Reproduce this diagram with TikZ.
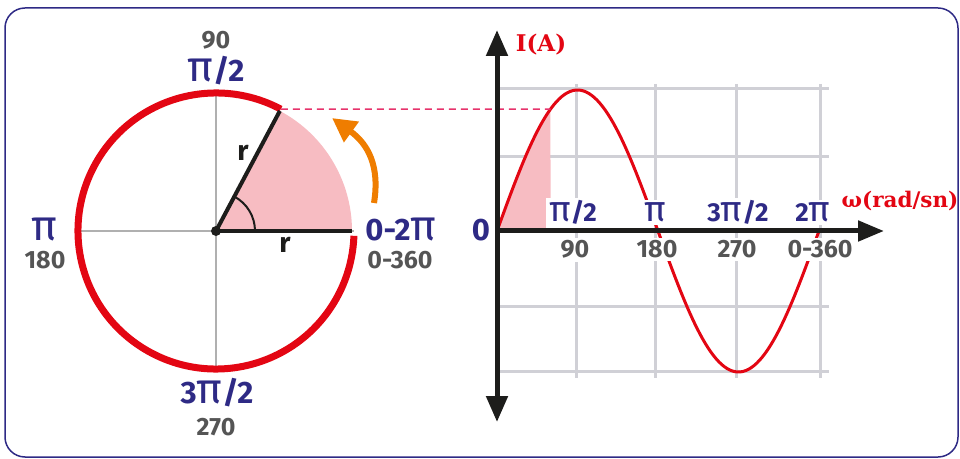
\documentclass[tikz,border=0pt]{standalone}
\usepackage{fontspec}
\setmainfont{Fira Sans}
\newfontfamily\pifont{Fira Sans}
\newfontfamily\slab{DejaVu Serif}
\usetikzlibrary{arrows.meta,calc}
\newcommand{\PIsym}{\scalebox{1.4}[1.38]{\pifont\mdseries π}}
\definecolor{cnavy}{HTML}{2E2A85}
\definecolor{cgray}{HTML}{555555}
\definecolor{cred}{HTML}{E30613}
\definecolor{cpink}{HTML}{F7BCC2}
\definecolor{cdash}{HTML}{E6336B}
\definecolor{corange}{HTML}{EF7D00}
\definecolor{cblack}{HTML}{1D1D1B}
\definecolor{caxis}{HTML}{B0B0B0}
\definecolor{cgrid}{HTML}{D0D0D6}
\definecolor{cframe}{HTML}{2E2A85}
\begin{document}
\begin{tikzpicture}[x=1pt,y=1pt,
  bignavy/.style={text=cnavy,font=\bfseries\fontsize{31}{31}\selectfont,anchor=base,inner sep=0pt},
  smallnavy/.style={text=cnavy,font=\bfseries\fontsize{26}{26}\selectfont,anchor=base,inner sep=3pt,fill=white},
  grayc/.style={text=cgray,font=\bfseries\fontsize{25}{25}\selectfont,anchor=base,inner sep=0pt},
  grayg/.style={text=cgray,font=\bfseries\fontsize{25}{25}\selectfont,anchor=base,inner sep=3pt,fill=white},
  rlabel/.style={text=cblack,font=\fontsize{28}{28}\selectfont\bfseries,anchor=base,inner sep=0pt},
  redlabel/.style={text=cred,font=\slab\bfseries,anchor=base,inner sep=0pt},
  gridline/.style={draw=cgrid,line width=3pt},
  axisline/.style={draw=cblack,line width=5pt}]
\useasboundingbox (0,0) rectangle (960,458);
% frame
\draw[cframe,line width=1.5pt,rounded corners=20pt] (5,1) rectangle (958,450);

% ---------- circle ----------
\coordinate (C) at (216,227);
\draw[caxis,line width=1.5pt] (78,227) -- (354,227);
\draw[caxis,line width=1.5pt] (216,89) -- (216,365);
\fill[cpink] (C) -- ++(0:136) arc[start angle=0,end angle=62,radius=136] -- cycle;
\draw[cred,line width=7pt] (C) ++(62:138) arc[start angle=62,end angle=358,radius=138];
\coordinate (P) at ($(C)+(62:138)$);
\coordinate (E) at ($(C)+(0:136)$);
\coordinate (P2) at ($(C)+(62:136)$);
\draw[cblack,line width=4pt] (C) -- (E);
\draw[cblack,line width=4pt] (C) -- (P2);
\draw[cblack,line width=2pt] (C) ++(0:39) arc[start angle=0,end angle=62,radius=39];
\fill[cblack] (C) circle[radius=5];
\node[rlabel] (r1) at (243,297) {r};
\node[rlabel] (r2) at (285,205) {r};
% orange arrow
\coordinate (oa) at (374,255);
\coordinate (ob) at (332,340);
\draw[corange,line width=6pt,-{Triangle[length=24pt,width=24pt]}] (oa) .. controls (380,292) and (368,314) .. (ob);
% circle labels
\node[grayc] (t90) at (216,409) {90};
\node[bignavy] (tpi2) at (216,376) {\PIsym/2};
\node[bignavy] (tpi) at (44,217) {\PIsym};
\node[grayc] (t180) at (45,189) {180};
\node[bignavy] (t02pi) at (401,217) {0-2\PIsym};
\node[grayc] (t0360) at (400,189) {0-360};
\node[bignavy] (t3pi2) at (217,55) {3\PIsym/2};
\node[grayc] (t270) at (216,23) {270};

% ---------- graph ----------
\foreach \yy in {369,301,152,87} \draw[gridline] (497,\yy) -- (829,\yy);
\foreach \xx in {576,655,736,820} \draw[gridline] (\xx,374) -- (\xx,80);
\coordinate (Q) at (550.5,348.9);
\fill[cpink] (497,227) -- plot[domain=0:59.8,samples=40] ({497+0.8944*\x},{227+141*sin(\x)}) -- (550.5,227) -- cycle;
\draw[cred,line width=3pt] plot[domain=0:360,samples=120] ({497+0.8944*\x},{227+141*sin(\x)});
\draw[cdash,line width=1.5pt,dash pattern=on 7pt off 5pt] (P) -- (Q);
% graph labels
\node[smallnavy] (g1) at (573,236) {\PIsym/2};
\node[smallnavy] (g2) at (655,236) {\PIsym};
\node[smallnavy] (g3) at (738,236) {3\PIsym/2};
\node[smallnavy] (g4) at (813,236) {2\PIsym};
\node[grayg] (h1) at (575,200) {90};
\node[grayg] (h2) at (657,200) {180};
\node[grayg] (h3) at (737,200) {270};
\node[grayg] (h4) at (820,200) {0-360};
% axes
\coordinate (O) at (497,227);
\coordinate (Xe) at (884,227);
\coordinate (Yt) at (497,428);
\coordinate (Yb) at (497,36);
\draw[axisline,-{Triangle[length=26pt,width=20pt]}] (O) -- (Xe);
\draw[axisline,{Triangle[length=26pt,width=21pt]}-{Triangle[length=26pt,width=21pt]}] (Yb) -- (Yt);
\node[bignavy] (zero) at (481,217) {0};
\node[redlabel,font=\slab\bfseries\fontsize{23}{23}\selectfont] (IA) at (541,406) {I(A)};
\node[redlabel,font=\slab\bfseries\fontsize{21.5}{21.5}\selectfont] (omega) at (900,250) {ω(rad/sn)};
\end{tikzpicture}
\end{document}
